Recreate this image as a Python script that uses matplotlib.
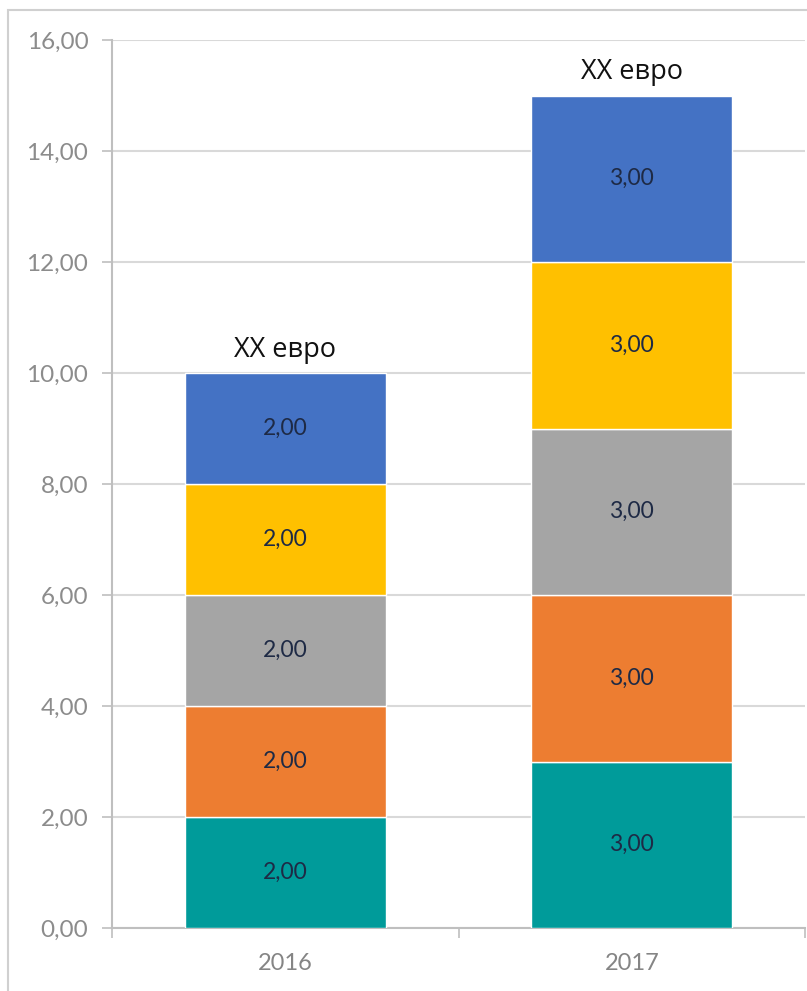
import matplotlib
matplotlib.use("Agg")
import matplotlib.pyplot as plt
from matplotlib.patches import Rectangle

years = ["2016", "2017"]
series_values = [
    [2.0, 3.0],  # teal
    [2.0, 3.0],  # orange
    [2.0, 3.0],  # gray
    [2.0, 3.0],  # yellow
    [2.0, 3.0],  # blue
]
series_colors = ["#009B9A", "#ED7D31", "#A5A5A5", "#FFC000", "#4472C4"]
total_labels = ["XX евро", "XX евро"]
y_ticks = [0, 2, 4, 6, 8, 10, 12, 14, 16]

plt.rcParams["font.family"] = ["Lato", "DejaVu Sans"]

W, H = 807, 991
fig = plt.figure(figsize=(W / 100, H / 100), dpi=100)
fig.patch.set_facecolor("white")
fig.add_artist(Rectangle((8 / W, -0.2), 2.0, 1.2 - 10 / H, transform=fig.transFigure,
                         fill=False, edgecolor="#D0D0D0", linewidth=1.5))

ax = fig.add_axes([112 / W, (H - 928) / H, (805 - 112) / W, (928 - 40) / H])
x = list(range(len(years)))
bottoms = [0.0] * len(years)
for vals, col in zip(series_values, series_colors):
    ax.bar(x, vals, width=0.58, bottom=bottoms, color=col, edgecolor="white",
           linewidth=1.0, zorder=3)
    for i, v in enumerate(vals):
        ax.text(x[i], bottoms[i] + v / 2, f"{v:.2f}".replace(".", ","),
                ha="center", va="center", fontsize=16.5, color="#1E2A45", zorder=4)
    bottoms = [b + v for b, v in zip(bottoms, vals)]

for i, lab in enumerate(total_labels):
    ax.text(x[i], bottoms[i] + 0.17, lab, ha="center", va="bottom", fontsize=19.5,
            color="#111111", family=["Open Sans", "DejaVu Sans"], zorder=4)

ax.set_xlim(-0.5, 1.5)
ax.set_ylim(0, 16)
ax.set_yticks(y_ticks)
ax.set_yticklabels([f"{t:.2f}".replace(".", ",") for t in y_ticks])
ax.yaxis.grid(True, color="#D9D9D9", linewidth=1.5, zorder=0)
ax.set_axisbelow(True)

ax.set_xticks(x)
ax.set_xticklabels(years)
ax.set_xticks([-0.5, 0.5, 1.5], minor=True)
ax.tick_params(axis="x", which="major", length=0, pad=18, labelsize=17, labelcolor="#858585")
ax.tick_params(axis="x", which="minor", length=7, width=1.2, color="#BFBFBF")
ax.tick_params(axis="y", length=7, width=1.2, color="#BFBFBF", pad=10,
               labelsize=17.5, labelcolor="#8C8C8C")

for s in ["top", "right"]:
    ax.spines[s].set_visible(False)
for s in ["left", "bottom"]:
    ax.spines[s].set_color("#BFBFBF")
    ax.spines[s].set_linewidth(1.5)

fig.savefig("out.png", dpi=100, facecolor="white")
